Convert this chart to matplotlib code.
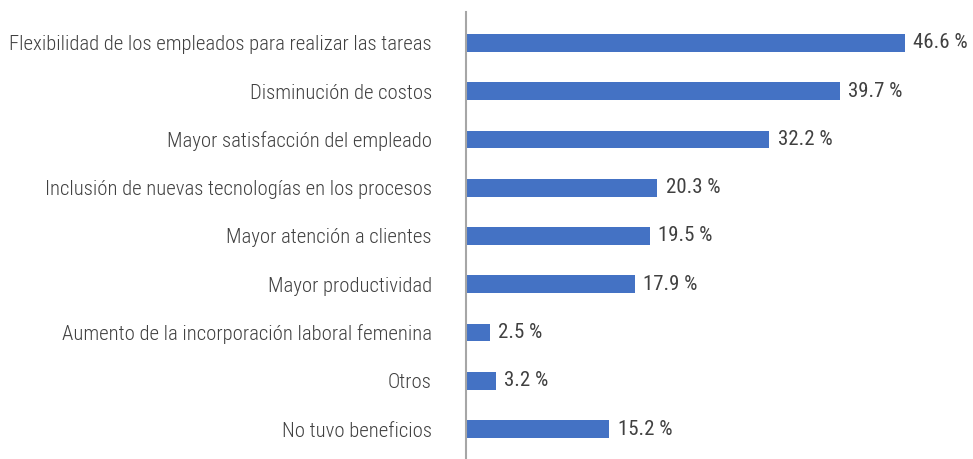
import matplotlib
matplotlib.use("Agg")
import matplotlib.pyplot as plt
from matplotlib import font_manager

# beneficios del teletrabajo (% de empresas)
categorias = [
    "Flexibilidad de los empleados para realizar las tareas",
    "Disminución de costos",
    "Mayor satisfacción del empleado",
    "Inclusión de nuevas tecnologías en los procesos",
    "Mayor atención a clientes",
    "Mayor productividad",
    "Aumento de la incorporación laboral femenina",
    "Otros",
    "No tuvo beneficios",
]
valores = [46.6, 39.7, 32.2, 20.3, 19.5, 17.9, 2.5, 3.2, 15.2]

nombres = {f.name for f in font_manager.fontManager.ttflist}
fuente = "Roboto Condensed" if "Roboto Condensed" in nombres else "Roboto"
plt.rcParams["font.family"] = [fuente, "DejaVu Sans"]

color_barra = "#4472C4"
color_texto = "#404040"

fig = plt.figure(figsize=(9.73, 4.59), dpi=100)
ax = fig.add_axes([466 / 973, 0.0, (960 - 466) / 973, (459 - 12) / 459])

pos = list(range(len(categorias)))
ax.barh(pos, valores, height=0.37, color=color_barra)

for y, v in zip(pos, valores):
    ax.annotate(f"{v:.1f} %", (v, y), xytext=(6, 0), textcoords="offset points",
                va="center", ha="left", fontsize=15, color=color_texto)

ax.set_xlim(0, (960 - 466) / 9.42)
ax.set_ylim(len(categorias) - 1 + 0.62, -0.64)

ax.set_yticks(pos)
ax.set_yticklabels(categorias, fontsize=14.9, fontweight="light", color=color_texto)
ax.tick_params(axis="y", length=0, pad=24.5)
ax.set_xticks([])

for s in ["top", "right", "bottom"]:
    ax.spines[s].set_visible(False)
ax.spines["left"].set_color("#a6a6a6")
ax.spines["left"].set_linewidth(1.5)

fig.savefig("out.png", dpi=100)
